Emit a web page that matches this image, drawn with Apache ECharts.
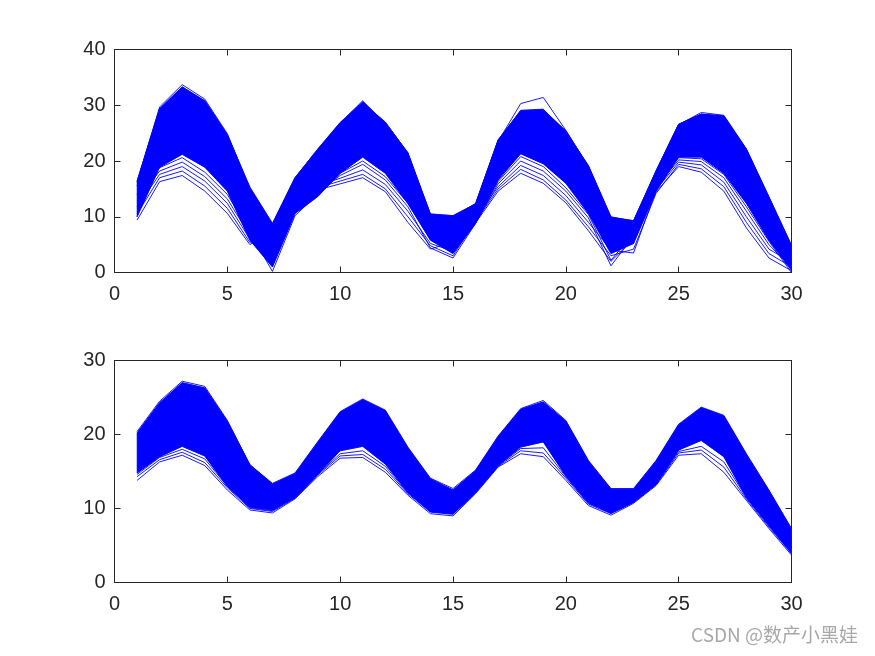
<!DOCTYPE html>
<html>
<head>
<meta charset="utf-8">
<script src="https://cdn.jsdelivr.net/npm/echarts@6/dist/echarts.min.js"></script>
<style>
html,body{margin:0;padding:0;background:#fff;}
#chart{width:875px;height:656px;}
</style>
</head>
<body>
<div id="chart"></div>
<script>
// x positions (time steps)
const xVals = [1,2,3,4,5,6,7,8,9,10,11,12,13,14,15,16,17,18,19,20,21,22,23,24,25,26,27,28,29,30];
const xTicks = [0,5,10,15,20,25,30];
const yTicksTop = [0,10,20,30,40];
const yTicksBottom = [0,10,20,30];

// ---- Top subplot ----
// upper edge of the dense band
const topUpper = [16.4,29.4,33.3,30.8,24.7,15.3,8.8,17.0,22.1,26.9,30.6,26.9,21.5,10.5,10.2,12.3,23.8,29.0,29.2,25.4,19.1,9.9,9.3,18.2,26.6,28.4,28.1,22.1,13.5,4.8];
// lower edge of the dense band
const topDenseLow = [10.0,18.9,21.2,18.9,14.6,5.8,1.0,10.6,13.6,17.8,20.7,17.8,12.4,5.8,3.4,8.8,16.6,21.3,19.5,16.0,10.6,3.4,5.2,14.6,20.7,20.7,17.8,12.4,5.8,0.4];
// individual lines
const topLine1 = [9.4,16.3,17.4,14.6,10.6,5.0,7.5,12.9,14.8,15.9,17.0,14.5,9.0,4.2,5.5,8.9,14.6,17.8,16.0,12.5,7.5,2.0,6.0,14.5,19.0,18.0,14.6,8.0,2.6,0.3];
const topLine2 = [10.5,17.0,18.2,15.5,11.5,5.4,6.8,13.2,15.2,16.4,17.6,15.0,10.0,4.8,3.0,9.2,15.0,18.5,16.6,13.0,8.2,3.0,4.2,14.2,19.4,18.6,15.4,9.0,3.4,1.0];
const topLine3 = [11.8,17.6,19.0,16.4,12.4,6.0,4.0,12.6,15.6,16.9,18.4,15.8,11.0,5.2,3.8,9.6,15.4,19.2,17.4,13.8,9.0,4.0,3.5,14.8,19.8,19.3,16.2,10.0,4.2,1.8];
const topLine4 = [12.8,18.2,19.8,17.2,13.2,6.6,2.5,11.2,14.4,17.4,19.4,16.6,11.8,4.4,2.6,8.8,15.9,20.0,18.2,14.6,9.8,1.2,6.5,15.2,20.2,19.9,17.0,11.0,5.0,0.8];
const topLine5 = [14.0,18.8,20.6,18.0,14.0,7.2,0.2,10.2,14.0,17.8,20.0,17.2,12.4,6.0,4.5,9.0,16.3,20.8,19.0,15.2,10.4,2.2,7.0,15.6,20.6,20.4,17.6,11.8,5.6,0.0];
const topLine6 = [16.2,29.7,33.7,31.1,24.9,15.0,8.0,16.6,21.6,26.6,30.3,27.0,21.4,10.0,9.0,12.2,23.5,30.3,31.4,25.5,19.0,9.5,9.0,18.0,26.5,28.7,28.2,22.2,13.6,4.9];
const topLine7 = [15.5,29.0,32.8,30.6,24.3,14.6,8.6,17.0,22.0,26.8,30.8,26.6,21.2,10.4,10.0,12.4,23.7,29.1,29.3,25.2,19.2,10.0,9.2,18.3,26.6,28.4,28.0,22.0,13.2,4.4];

// ---- Bottom subplot ----
const botUpper = [20.2,24.3,27.0,26.3,21.8,15.9,13.3,14.7,18.9,23.0,24.7,23.2,18.2,14.0,12.5,15.1,19.7,23.4,24.4,21.8,16.4,12.6,12.6,16.4,21.3,23.6,22.5,17.3,12.4,7.2];
const botDenseLow = [14.8,17.0,18.4,17.1,13.0,10.2,9.8,11.5,14.6,17.8,18.4,16.0,12.2,9.6,9.3,12.2,15.8,18.3,19.0,14.4,10.8,9.4,10.9,13.3,17.9,19.2,17.0,11.5,7.7,4.0];
const botLine1 = [13.8,16.3,17.2,15.8,12.5,9.8,9.4,11.3,14.3,16.8,16.9,14.9,11.8,9.3,9.0,12.0,15.6,17.4,17.0,13.8,10.4,9.1,10.7,13.1,17.2,17.4,14.9,11.1,7.3,3.7];
const botLine2 = [14.3,16.6,17.6,16.2,12.8,10.0,9.6,11.4,14.5,17.1,17.3,15.3,12.0,9.5,9.2,12.1,15.7,17.8,17.5,14.1,10.6,9.3,10.8,13.2,17.5,17.9,15.6,11.3,7.5,3.9];
const botLine3 = [14.6,16.9,18.0,16.7,13.0,10.1,9.7,11.5,14.6,17.4,17.8,15.7,12.1,9.6,9.3,12.2,15.8,18.1,18.2,14.3,10.7,9.4,10.9,13.3,17.7,18.4,16.3,11.5,7.7,4.0];
const botLine4 = [20.4,24.5,27.2,26.5,21.9,15.9,13.4,14.8,19.0,23.1,24.8,23.3,18.3,14.1,12.7,15.2,19.8,23.5,24.6,21.9,16.5,12.7,12.7,16.5,21.4,23.7,22.6,17.4,12.5,7.3];

const BLUE = '#0000ff';
const AX = '#262626';
const FONT = '"Liberation Sans", Arial, Helvetica, sans-serif';

function pts(arr){ return arr.map((v,i)=>[xVals[i], v]); }

function lineSeries(arr, xi, yi){
  return {type:'line', xAxisIndex:xi, yAxisIndex:yi, data:pts(arr), symbol:'none',
    lineStyle:{color:BLUE, width:0.9}, silent:true, z:4};
}
// dense band: polygon between the lower and upper edges, placed through the axes' scales
function bandSeries(low, up, xi, yi){
  return [
    {type:'custom', xAxisIndex:xi, yAxisIndex:yi, data:[[xVals[0], up[0]]], silent:true, z:2,
      renderItem:function(params, api){
        const top = up.map((v,i)=>api.coord([xVals[i], v]));
        const bot = low.map((v,i)=>api.coord([xVals[i], v])).reverse();
        return {type:'polygon', shape:{points:top.concat(bot)},
          style:{fill:BLUE, stroke:BLUE, lineWidth:0.6}};
      }},
    lineSeries(up, xi, yi),
    lineSeries(low, xi, yi)
  ];
}

function xAxisDef(gi, pos, showLabels){
  return {type:'value', gridIndex:gi, position:pos, min:0, max:30, interval:5, z:10,
    axisLine:{show:true, onZero:false, lineStyle:{color:AX, width:1}},
    axisTick:{show:true, inside:true, length:6, lineStyle:{color:AX}},
    axisLabel:{show:showLabels, color:AX, fontSize:20, fontFamily:FONT, margin:12},
    splitLine:{show:false}};
}
function yAxisDef(gi, pos, max, showLabels){
  return {type:'value', gridIndex:gi, position:pos, min:0, max:max, interval:10, z:10,
    axisLine:{show:true, onZero:false, lineStyle:{color:AX, width:1}},
    axisTick:{show:true, inside:true, length:6, lineStyle:{color:AX}},
    axisLabel:{show:showLabels, color:AX, fontSize:20, fontFamily:FONT, margin:9},
    splitLine:{show:false}};
}

const chart = echarts.init(document.getElementById('chart'), null, {renderer:'canvas'});
const option = {
  animation:false,
  backgroundColor:'#ffffff',
  grid:[
    {left:114.5, top:49.5, width:677, height:223, containLabel:false},
    {left:114.5, top:360.5, width:677, height:222, containLabel:false}
  ],
  xAxis:[
    xAxisDef(0,'bottom',true), xAxisDef(0,'top',false),
    xAxisDef(1,'bottom',true), xAxisDef(1,'top',false)
  ],
  yAxis:[
    yAxisDef(0,'left',40,true), yAxisDef(0,'right',40,false),
    yAxisDef(1,'left',30,true), yAxisDef(1,'right',30,false)
  ],
  series:[].concat(
    bandSeries(topDenseLow, topUpper, 0, 0),
    [topLine1,topLine2,topLine3,topLine4,topLine5,topLine6,topLine7].map(a=>lineSeries(a,0,0)),
    bandSeries(botDenseLow, botUpper, 2, 2),
    [botLine1,botLine2,botLine3,botLine4].map(a=>lineSeries(a,2,2))
  ),
  graphic:[
    {type:'text', right:17, top:625, silent:true,
      style:{text:'CSDN @数产小黑娃', fill:'#a8a8a8', fontSize:19,
        fontFamily:'"Noto Sans CJK SC", "Liberation Sans", sans-serif'}}
  ]
};
chart.setOption(option);
</script>
</body>
</html>
